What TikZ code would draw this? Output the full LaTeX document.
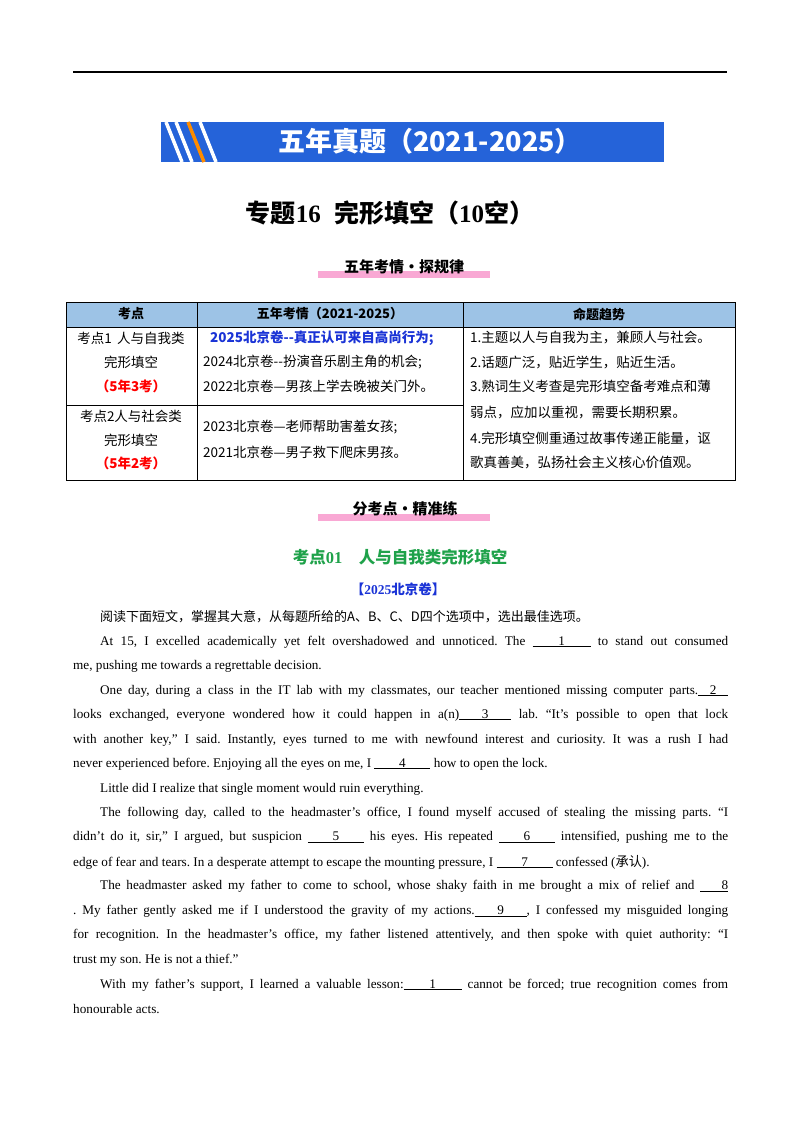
\documentclass[tikz,border=0pt]{standalone}
\usepackage{fontspec}
\setmainfont{Liberation Serif}
\newfontfamily\cjk{Noto Sans CJK SC}
\frenchspacing
\newcommand{\bl}[2]{\underline{\makebox[#1pt][c]{#2}}}
\definecolor{bannerblue}{HTML}{2563D9}
\definecolor{hdrblue}{HTML}{9DC3E6}
\definecolor{pinkhl}{HTML}{F9A8D4}
\definecolor{gtitle}{HTML}{1FA24A}
\definecolor{btitle}{HTML}{1A33D6}
\begin{document}
\begin{tikzpicture}[x=1pt,y=-1pt,
  body/.style={anchor=west,inner sep=0pt,font=\fontsize{13.2}{15}\selectfont},
  cell/.style={inner sep=0pt,font=\cjk\fontsize{13.5}{15}\selectfont}]
\useasboundingbox (0,0) rectangle (800,1132);
\fill[white] (0,0) rectangle (800,1132);
\draw[line width=1.2pt] (73,72) -- (727,72);
% banner
\fill[bannerblue] (161,122) rectangle (664,162);
\foreach \dx in {0,10,34}{\draw[white,line width=3.5pt] (166+\dx,122) -- (182+\dx,162);}
\draw[orange!90!yellow,line width=3.5pt] (188,122) -- (204,162);
\node[text=white,font=\cjk\bfseries\fontsize{27}{30}\selectfont] (ban) at (430,141) {五年真题（2021-2025）};
\node[font=\bfseries\fontsize{25}{28}\selectfont] (title) at (390,213) {{\cjk 专题}16\; {\cjk 完形填空（}10{\cjk 空）}};
% sub banner 1
\fill[pinkhl] (318,271) rectangle (490,278);
\node[font=\cjk\bfseries\fontsize{15}{18}\selectfont] (s1) at (404,267) {五年考情·探规律};
% table
\fill[hdrblue] (66,302) rectangle (735,327);
\draw[line width=0.8pt] (66,302) rectangle (735,480);
\draw (66,327) -- (735,327);
\draw (66,405) -- (463,405);
\draw (197,302) -- (197,480);
\draw (463,302) -- (463,480);
\node[cell,font=\cjk\bfseries\fontsize{13}{15}\selectfont] (h1) at (131,314) {考点};
\node[cell,font=\cjk\bfseries\fontsize{13}{15}\selectfont] (h2) at (330,314) {五年考情（2021-2025）};
\node[cell,font=\cjk\bfseries\fontsize{13}{15}\selectfont] (h3) at (599,314) {命题趋势};
\node[cell] (a1) at (131,338) {考点1\, 人与自我类};
\node[cell] (a2) at (131,362) {完形填空};
\node[cell,text=red,font=\cjk\bfseries\fontsize{13.5}{15}\selectfont] (a3) at (131,386) {（5年3考）};
\node[cell] (b1) at (131,416) {考点2人与社会类};
\node[cell] (b2) at (131,440) {完形填空};
\node[cell,text=red,font=\cjk\bfseries\fontsize{13.5}{15}\selectfont] (b3) at (131,463) {（5年2考）};
\node[cell,anchor=west,text=btitle,font=\cjk\bfseries\fontsize{13.5}{15}\selectfont] (c1) at (210,338) {2025北京卷--真正认可来自高尚行为;};
\node[cell,anchor=west] (c2) at (203,362) {2024北京卷--扮演音乐剧主角的机会;};
\node[cell,anchor=west] (c3) at (203,386) {2022北京卷—男孩上学去晚被关门外。};
\node[cell,anchor=west] (c4) at (203,427) {2023北京卷—老师帮助害羞女孩;};
\node[cell,anchor=west] (c5) at (203,452) {2021北京卷—男子救下爬床男孩。};
\node[cell,anchor=west] (d1) at (470,338) {1.主题以人与自我为主，兼顾人与社会。};
\node[cell,anchor=west] (d2) at (470,362) {2.话题广泛，贴近学生，贴近生活。};
\node[cell,anchor=west] (d3) at (470,386) {\makebox[258pt][s]{3.熟词生义考查是完形填空备考难点和薄}};
\node[cell,anchor=west] (d4) at (470,412) {弱点，应加以重视，需要长期积累。};
\node[cell,anchor=west] (d5) at (470,438) {\makebox[258pt][s]{4.完形填空侧重通过故事传递正能量，讴}};
\node[cell,anchor=west] (d6) at (470,463) {歌真善美，弘扬社会主义核心价值观。};
% sub banner 2
\fill[pinkhl] (318,514) rectangle (490,521);
\node[font=\cjk\bfseries\fontsize{15}{18}\selectfont] (s2) at (405,509) {分考点·精准练};
\node[text=gtitle,font=\bfseries\fontsize{16.5}{19}\selectfont] (k1) at (400,557) {{\cjk 考点}01\quad {\cjk 人与自我类完形填空}};
\node[text=btitle,font=\bfseries\fontsize{13.5}{16}\selectfont] (k2) at (398,589) {{\cjk 【}2025{\cjk 北京卷】}};
% body
\node[body,font=\cjk\fontsize{13}{15}\selectfont] (p0) at (100,617) {阅读下面短文，掌握其大意，从每题所给的A、B、C、D四个选项中，选出最佳选项。};
\node[body] (l1) at (100,642) {\makebox[628pt][s]{At 15, I excelled academically yet felt overshadowed and unnoticed. The \bl{58}{1} to stand out consumed}};
\node[body] (l2) at (73,666) {me, pushing me towards a regrettable decision.};
\node[body] (l3) at (100,691) {\makebox[628pt][s]{One day, during a class in the IT lab with my classmates, our teacher mentioned missing computer parts.\bl{30}{2}}};
\node[body] (l4) at (73,715) {\makebox[655pt][s]{looks exchanged, everyone wondered how it could happen in a(n)\bl{52}{3} lab. “It’s possible to open that lock}};
\node[body] (l5) at (73,740) {\makebox[655pt][s]{with another key,” I said. Instantly, eyes turned to me with newfound interest and curiosity. It was a rush I had}};
\node[body] (l6) at (73,764) {never experienced before. Enjoying all the eyes on me, I \bl{56}{4} how to open the lock.};
\node[body] (l7) at (100,789) {Little did I realize that single moment would ruin everything.};
\node[body] (l8) at (100,813) {\makebox[628pt][s]{The following day, called to the headmaster’s office, I found myself accused of stealing the missing parts. “I}};
\node[body] (l9) at (73,837) {\makebox[655pt][s]{didn’t do it, sir,” I argued, but suspicion \bl{56}{5} his eyes. His repeated \bl{56}{6} intensified, pushing me to the}};
\node[body] (l10) at (73,862) {edge of fear and tears. In a desperate attempt to escape the mounting pressure, I \bl{56}{7} confessed ({\cjk 承认}).};
\node[body] (l11) at (100,886) {\makebox[628pt][s]{The headmaster asked my father to come to school, whose shaky faith in me brought a mix of relief and \bl{28}{\hfill8}}};
\node[body] (l12) at (73,911) {\makebox[655pt][s]{. My father gently asked me if I understood the gravity of my actions.\bl{52}{9}, I confessed my misguided longing}};
\node[body] (l13) at (73,935) {\makebox[655pt][s]{for recognition. In the headmaster’s office, my father listened attentively, and then spoke with quiet authority: “I}};
\node[body] (l14) at (73,960) {trust my son. He is not a thief.”};
\node[body] (l15) at (100,985) {\makebox[628pt][s]{With my father’s support, I learned a valuable lesson:\bl{58}{1} cannot be forced; true recognition comes from}};
\node[body] (l16) at (73,1009) {honourable acts.};
\end{tikzpicture}
\end{document}
